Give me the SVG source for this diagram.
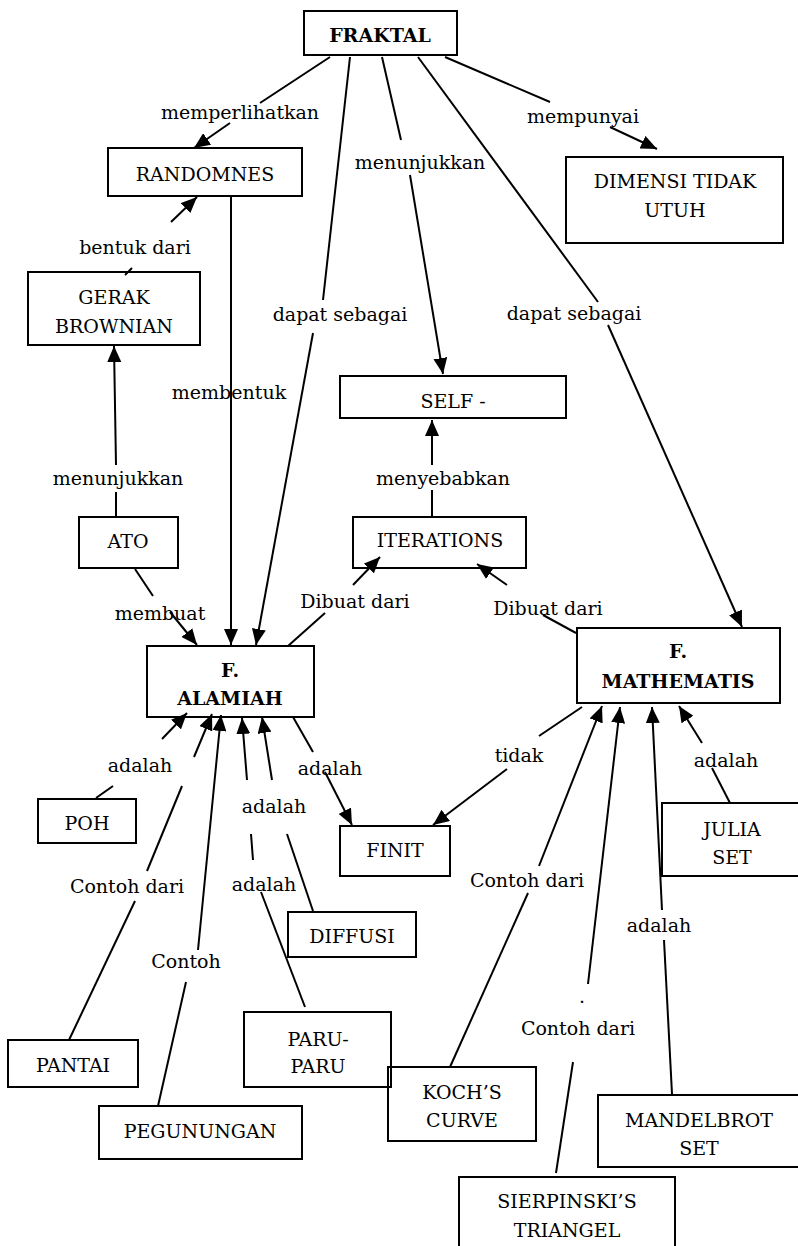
<svg xmlns="http://www.w3.org/2000/svg" width="798" height="1246" viewBox="0 0 798 1246">
<style>
.box{fill:none;stroke:#000;stroke-width:2}
.t{font-family:"DejaVu Serif","Liberation Serif",serif;font-size:19px;text-anchor:middle;fill:#000}
.b{font-weight:bold}
.c line{stroke:#000;stroke-width:2}
.c line.a{marker-end:url(#ah)}
</style>
<defs>
<marker id="ah" markerUnits="userSpaceOnUse" markerWidth="16" markerHeight="14" refX="16" refY="7" orient="auto"><path d="M0,0 L16,7 L0,14 z" fill="#000"/></marker>
</defs>
<rect width="798" height="1246" fill="#fff"/>
<g id="connectors" class="c">
<line x1="330" y1="57" x2="260" y2="103"/><line class="a" x1="230" y1="123" x2="194" y2="148"/>
<line x1="350" y1="57" x2="323" y2="300"/><line class="a" x1="313" y1="333" x2="256" y2="645"/>
<line x1="382" y1="57" x2="401" y2="140"/><line class="a" x1="410" y1="175" x2="443" y2="374"/>
<line x1="418" y1="57" x2="598" y2="302"/><line class="a" x1="608" y1="325" x2="742" y2="627"/>
<line x1="445" y1="57" x2="550" y2="102"/><line class="a" x1="610" y1="127" x2="657" y2="149"/>
<line x1="125" y1="275" x2="132" y2="268"/><line class="a" x1="171" y1="222" x2="197" y2="197"/>
<line class="a" x1="231" y1="196" x2="231" y2="645"/>
<line x1="116" y1="517" x2="116" y2="492"/><line class="a" x1="116" y1="465" x2="114" y2="346"/>
<line x1="135" y1="569" x2="153" y2="596"/><line class="a" x1="170" y1="612" x2="197" y2="645"/>
<line x1="288" y1="646" x2="325" y2="613"/><line class="a" x1="353" y1="585" x2="380" y2="557"/>
<line x1="432" y1="517" x2="432" y2="490"/><line class="a" x1="432" y1="465" x2="432" y2="420"/>
<line x1="576" y1="633" x2="543" y2="615"/><line class="a" x1="507" y1="585" x2="477" y2="564"/>
<line x1="96" y1="798" x2="113" y2="786"/><line class="a" x1="162" y1="739" x2="187" y2="713"/>
<line x1="69" y1="1040" x2="135" y2="901"/><line x1="147" y1="871" x2="182" y2="786"/><line class="a" x1="194" y1="757" x2="212" y2="714"/>
<line x1="158" y1="1106" x2="186" y2="982"/><line class="a" x1="198" y1="950" x2="221" y2="715"/>
<line x1="305" y1="1007" x2="261" y2="892"/><line x1="253" y1="860" x2="251" y2="834"/><line class="a" x1="247" y1="780" x2="242" y2="718"/>
<line x1="313" y1="911" x2="287" y2="834"/><line class="a" x1="272" y1="780" x2="262" y2="717"/>
<line x1="293" y1="717" x2="313" y2="752"/><line class="a" x1="325" y1="772" x2="352" y2="825"/>
<line x1="582" y1="707" x2="539" y2="736"/><line class="a" x1="507" y1="769" x2="433" y2="825"/>
<line x1="450" y1="1067" x2="528" y2="893"/><line class="a" x1="539" y1="866" x2="602" y2="706"/>
<line x1="556" y1="1173" x2="573" y2="1062"/><line class="a" x1="588" y1="984" x2="620" y2="707"/>
<line x1="672" y1="1094" x2="664" y2="940"/><line class="a" x1="662" y1="910" x2="652" y2="707"/>
<line x1="730" y1="803" x2="712" y2="768"/><line class="a" x1="702" y1="743" x2="679" y2="706"/>
</g>
<g id="labels">
<text class="t" x="240" y="119">memperlihatkan</text>
<text class="t" x="340" y="321">dapat sebagai</text>
<text class="t" x="420" y="169">menunjukkan</text>
<text class="t" x="574" y="320">dapat sebagai</text>
<text class="t" x="583" y="123">mempunyai</text>
<text class="t" x="135" y="254">bentuk dari</text>
<text class="t" x="229" y="399">membentuk</text>
<text class="t" x="118" y="485">menunjukkan</text>
<text class="t" x="160" y="620">membuat</text>
<text class="t" x="355" y="608">Dibuat dari</text>
<text class="t" x="443" y="485">menyebabkan</text>
<text class="t" x="548" y="615">Dibuat dari</text>
<text class="t" x="140" y="772">adalah</text>
<text class="t" x="127" y="893">Contoh dari</text>
<text class="t" x="186" y="968">Contoh</text>
<text class="t" x="274" y="813">adalah</text>
<text class="t" x="264" y="891">adalah</text>
<text class="t" x="330" y="775">adalah</text>
<text class="t" x="519" y="762">tidak</text>
<text class="t" x="527" y="887">Contoh dari</text>
<text class="t" x="582" y="1003">.</text>
<text class="t" x="578" y="1035">Contoh dari</text>
<text class="t" x="659" y="932">adalah</text>
<text class="t" x="726" y="767">adalah</text>
</g>
<g id="fraktal"><rect class="box" x="304" y="11" width="153" height="44"/><text class="t b" x="380" y="42">FRAKTAL</text></g>
<g id="randomnes"><rect class="box" x="108" y="148" width="194" height="48"/><text class="t" x="205" y="181">RANDOMNES</text></g>
<g id="dimensi"><rect class="box" x="566" y="157" width="217" height="86"/><text class="t" x="675" y="188">DIMENSI TIDAK</text><text class="t" x="675" y="217">UTUH</text></g>
<g id="gerak"><rect class="box" x="28" y="272" width="172" height="73"/><text class="t" x="114" y="304">GERAK</text><text class="t" x="114" y="333">BROWNIAN</text></g>
<g id="self"><rect class="box" x="340" y="376" width="226" height="42"/><text class="t" x="453" y="408">SELF -</text></g>
<g id="ato"><rect class="box" x="79" y="517" width="99" height="51"/><text class="t" x="128" y="548">ATO</text></g>
<g id="iterations"><rect class="box" x="353" y="517" width="173" height="51"/><text class="t" x="440" y="547">ITERATIONS</text></g>
<g id="alamiah"><rect class="box" x="147" y="646" width="167" height="71"/><text class="t b" x="230" y="677">F.</text><text class="t b" x="230" y="705">ALAMIAH</text></g>
<g id="mathematis"><rect class="box" x="577" y="628" width="203" height="75"/><text class="t b" x="678" y="658">F.</text><text class="t b" x="678" y="688">MATHEMATIS</text></g>
<g id="poh"><rect class="box" x="38" y="799" width="98" height="44"/><text class="t" x="87" y="830">POH</text></g>
<g id="finit"><rect class="box" x="340" y="826" width="110" height="50"/><text class="t" x="395" y="857">FINIT</text></g>
<g id="julia"><rect class="box" x="662" y="803" width="150" height="73"/><text class="t" x="732" y="836">JULIA</text><text class="t" x="732" y="864">SET</text></g>
<g id="diffusi"><rect class="box" x="288" y="912" width="128" height="45"/><text class="t" x="352" y="943">DIFFUSI</text></g>
<g id="pantai"><rect class="box" x="8" y="1040" width="130" height="47"/><text class="t" x="73" y="1072">PANTAI</text></g>
<g id="pegunungan"><rect class="box" x="99" y="1106" width="203" height="53"/><text class="t" x="200" y="1138">PEGUNUNGAN</text></g>
<g id="paru"><rect class="box" x="244" y="1012" width="147" height="75"/><text class="t" x="318" y="1046">PARU-</text><text class="t" x="318" y="1073">PARU</text></g>
<g id="koch"><rect class="box" x="388" y="1067" width="148" height="74"/><text class="t" x="462" y="1099">KOCH’S</text><text class="t" x="462" y="1127">CURVE</text></g>
<g id="mandelbrot"><rect class="box" x="598" y="1095" width="214" height="72"/><text class="t" x="699" y="1127">MANDELBROT</text><text class="t" x="699" y="1155">SET</text></g>
<g id="sierpinski"><rect class="box" x="459" y="1177" width="216" height="90"/><text class="t" x="567" y="1208">SIERPINSKI’S</text><text class="t" x="567" y="1237">TRIANGEL</text></g>
</svg>
